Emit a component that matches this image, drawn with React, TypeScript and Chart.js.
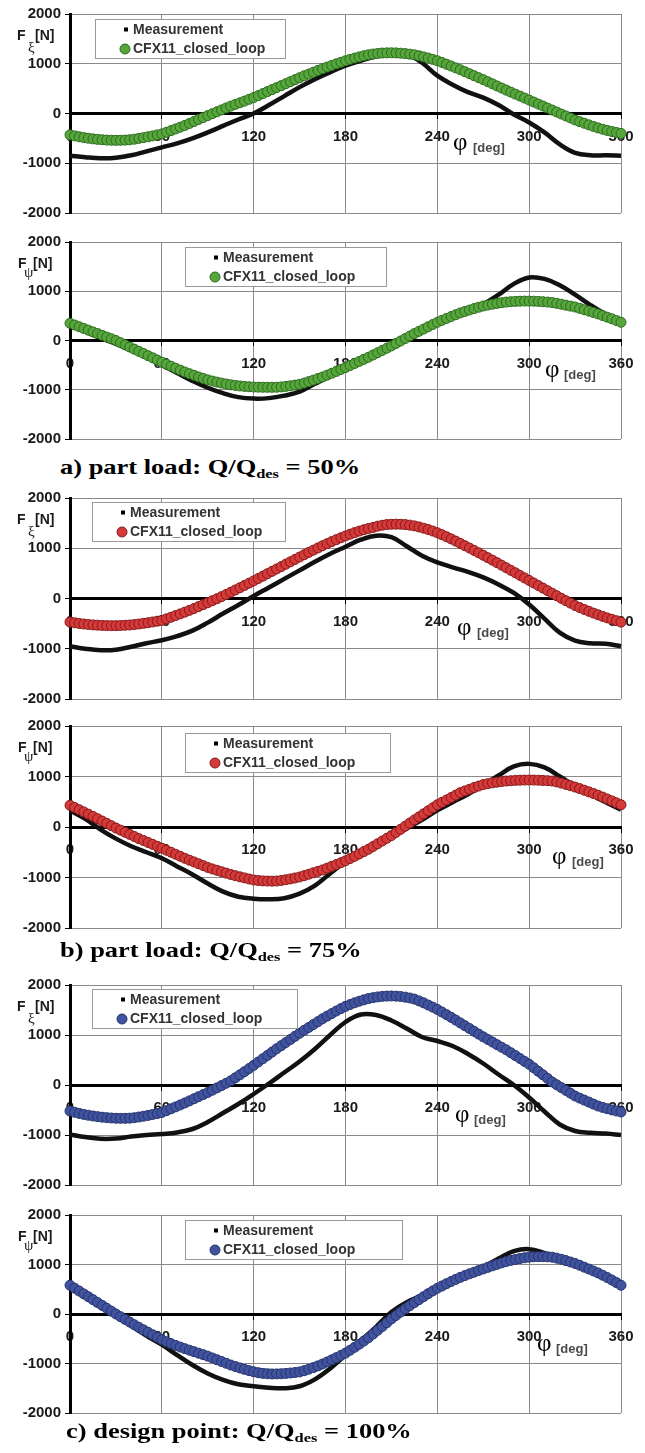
import React, { useEffect, useRef } from 'react';
import { Chart, registerables } from 'chart.js';

Chart.register(...registerables);

// ---------- DATA ----------
const SERIES_LABELS = ['Measurement', 'CFX11_closed_loop'];
const X_MIN = 0;
const X_MAX = 360;
const X_STEP = 60;
const Y_MIN = -2000;
const Y_MAX = 2000;
const Y_STEP = 1000;

const PHI_CFX = [
  0, 3, 6, 9, 12, 15, 18, 21, 24, 27, 30, 33, 36, 39, 42, 45, 48, 51, 54, 57, 60,
  63, 66, 69, 72, 75, 78, 81, 84, 87, 90, 93, 96, 99, 102, 105, 108, 111, 114, 117, 120,
  123, 126, 129, 132, 135, 138, 141, 144, 147, 150, 153, 156, 159, 162, 165, 168, 171, 174, 177, 180,
  183, 186, 189, 192, 195, 198, 201, 204, 207, 210, 213, 216, 219, 222, 225, 228, 231, 234, 237, 240,
  243, 246, 249, 252, 255, 258, 261, 264, 267, 270, 273, 276, 279, 282, 285, 288, 291, 294, 297, 300,
  303, 306, 309, 312, 315, 318, 321, 324, 327, 330, 333, 336, 339, 342, 345, 348, 351, 354, 357, 360,
];

const PHI_MEAS = [
  0, 10, 20, 30, 40, 50, 60, 70, 80, 90, 100, 110, 120, 130, 140, 150, 160, 170, 180,
  190, 200, 210, 220, 230, 240, 250, 260, 270, 280, 290, 300, 310, 320, 330, 340, 350, 360,
];

// a) Q/Qdes = 50 %
const CFX_XI_50 = [
  -430, -450, -468, -484, -498, -510,
  -520, -528, -534, -538, -540,
  -539, -535, -528, -516, -500,
  -485, -468, -450, -430, -410,
  -378, -344, -310, -275, -240,
  -200, -162, -122, -82, -42,
  -4, 34, 72, 110, 148,
  182, 216, 250, 285, 320,
  360, 400, 440, 480, 520,
  560, 600, 640, 680, 720,
  757, 793, 830, 866, 900,
  933, 966, 998, 1030, 1060,
  1088, 1114, 1138, 1160, 1180,
  1195, 1207, 1215, 1219, 1220,
  1218, 1212, 1204, 1193, 1180,
  1160, 1138, 1114, 1088, 1060,
  1026, 990, 954, 917, 880,
  840, 800, 760, 720, 680,
  638, 596, 554, 512, 470,
  430, 390, 350, 310, 270,
  230, 190, 150, 110, 70,
  30, -10, -50, -90, -130,
  -164, -196, -228, -260, -290,
  -316, -340, -362, -382, -400,
];
const MEAS_XI_50 = [
  -850, -880, -900, -890, -840, -760, -680, -600, -500, -380, -250, -120, 0, 170, 350, 530, 690, 830, 960,
  1060, 1150, 1200, 1190, 1020, 760, 580, 430, 320, 170, -20, -180, -380, -620, -790, -840, -840, -850,
];
const CFX_PSI_50 = [
  350, 315, 280, 245, 210, 175,
  140, 105, 70, 35, 0,
  -44, -88, -132, -176, -220,
  -264, -308, -352, -396, -440,
  -481, -522, -562, -601, -640,
  -674, -707, -739, -770, -800,
  -823, -845, -865, -883, -900,
  -912, -923, -932, -939, -945,
  -948, -950, -951, -951, -950,
  -942, -932, -920, -906, -890,
  -864, -835, -805, -773, -740,
  -704, -666, -628, -589, -550,
  -508, -466, -424, -382, -340,
  -294, -248, -202, -156, -110,
  -60, -10, 40, 90, 140,
  186, 232, 278, 324, 370,
  410, 448, 486, 523, 560,
  590, 618, 648, 675, 700,
  719, 737, 753, 767, 780,
  788, 794, 798, 800, 800,
  798, 794, 788, 780, 770,
  754, 736, 717, 698, 680,
  653, 625, 597, 568, 540,
  507, 474, 440, 405, 370,
];
const MEAS_PSI_50 = [
  310, 180, 50, -70, -200, -340, -500, -660, -820, -960, -1070, -1150, -1180, -1170, -1120, -1040, -880, -720, -570,
  -420, -250, -90, 90, 250, 380, 500, 610, 740, 930, 1150, 1280, 1250, 1120, 930, 720, 530, 370,
];

// b) Q/Qdes = 75 %
const CFX_XI_75 = [
  -470, -484, -497, -508, -517, -525,
  -531, -536, -539, -540, -540,
  -538, -533, -527, -519, -508,
  -495, -482, -467, -452, -435,
  -405, -373, -340, -306, -272,
  -236, -199, -161, -122, -84,
  -45, -5, 37, 80, 124,
  169, 214, 260, 305, 350,
  398, 445, 493, 540, 588,
  635, 683, 730, 778, 825,
  871, 917, 962, 1006, 1050,
  1092, 1132, 1171, 1209, 1245,
  1280, 1311, 1341, 1368, 1393,
  1414, 1440, 1458, 1471, 1477,
  1479, 1477, 1471, 1460, 1445,
  1424, 1400, 1373, 1342, 1308,
  1270, 1229, 1186, 1142, 1097,
  1051, 1004, 957, 909, 861,
  812, 763, 713, 663, 612,
  561, 511, 460, 409, 359,
  308, 257, 207, 156, 106,
  55, 4, -44, -92, -140,
  -180, -218, -254, -290, -324,
  -356, -386, -414, -442, -470,
];
const MEAS_XI_75 = [
  -950, -1000, -1030, -1020, -960, -890, -830, -750, -640, -480, -300, -130, 50, 220, 390, 560, 730, 890, 1030,
  1170, 1250, 1220, 1040, 850, 720, 620, 530, 420, 280, 110, -120, -400, -680, -840, -890, -900, -950,
];
const CFX_PSI_75 = [
  430, 386, 342, 298, 254, 210,
  164, 118, 72, 26, -20,
  -62, -104, -146, -188, -230,
  -268, -306, -344, -382, -420,
  -460, -500, -540, -580, -620,
  -656, -692, -728, -764, -800,
  -830, -858, -886, -913, -940,
  -964, -987, -1008, -1030, -1050,
  -1060, -1067, -1071, -1072, -1070,
  -1059, -1045, -1028, -1010, -990,
  -963, -935, -907, -879, -850,
  -815, -779, -743, -707, -670,
  -625, -580, -534, -487, -440,
  -386, -332, -278, -224, -170,
  -108, -46, 16, 78, 140,
  200, 260, 320, 380, 440,
  488, 536, 584, 632, 680,
  715, 748, 780, 811, 840,
  858, 874, 888, 900, 910,
  917, 923, 927, 929, 930,
  929, 926, 922, 917, 910,
  892, 869, 843, 817, 790,
  760, 728, 696, 663, 630,
  593, 555, 517, 478, 440,
];
const MEAS_PSI_75 = [
  330, 160, -50, -230, -380, -500, -620, -780, -940, -1120, -1280, -1380, -1420, -1430, -1410, -1320, -1160, -920, -690,
  -530, -370, -190, -30, 140, 330, 490, 650, 830, 1020, 1200, 1250, 1180, 1000, 810, 650, 490, 340,
];

// c) Q/Qdes = 100 %
const CFX_XI_100 = [
  -520, -545, -568, -588, -605, -620,
  -633, -644, -653, -660, -665,
  -667, -667, -663, -654, -640,
  -625, -608, -590, -571, -550,
  -514, -476, -438, -399, -360,
  -318, -276, -234, -192, -150,
  -104, -58, -12, 35, 83,
  143, 204, 266, 329, 393,
  460, 526, 592, 658, 725,
  787, 849, 911, 973, 1035,
  1093, 1151, 1209, 1267, 1325,
  1377, 1428, 1479, 1528, 1573,
  1609, 1644, 1675, 1703, 1728,
  1747, 1762, 1772, 1778, 1780,
  1777, 1770, 1757, 1740, 1718,
  1682, 1643, 1600, 1557, 1511,
  1459, 1407, 1353, 1298, 1242,
  1186, 1130, 1074, 1018, 963,
  911, 859, 807, 756, 704,
  646, 588, 530, 472, 414,
  344, 273, 203, 132, 62,
  4, -52, -108, -164, -220,
  -262, -302, -342, -382, -420,
  -448, -474, -498, -520, -540,
];
const MEAS_XI_100 = [
  -990, -1040, -1075, -1070, -1030, -1000, -980, -950, -880, -740, -560, -380, -180, 30, 250, 470, 720, 1000, 1260,
  1410, 1400, 1290, 1130, 960, 880, 780, 620, 430, 210, 0, -250, -530, -790, -920, -955, -970, -1000,
];
const CFX_PSI_100 = [
  580, 522, 464, 406, 348, 290,
  232, 174, 116, 58, 0,
  -55, -109, -163, -217, -270,
  -320, -370, -420, -470, -520,
  -560, -598, -634, -668, -700,
  -731, -761, -791, -821, -852,
  -888, -924, -960, -995, -1030,
  -1061, -1090, -1118, -1144, -1168,
  -1186, -1199, -1207, -1211, -1210,
  -1207, -1200, -1192, -1182, -1170,
  -1145, -1115, -1083, -1048, -1010,
  -969, -926, -882, -837, -790,
  -732, -672, -610, -546, -480,
  -405, -329, -253, -177, -100,
  -30, 38, 104, 168, 230,
  290, 350, 410, 466, 520,
  566, 612, 656, 699, 740,
  776, 811, 845, 878, 910,
  942, 973, 1003, 1032, 1060,
  1082, 1102, 1120, 1136, 1148,
  1155, 1158, 1158, 1155, 1148,
  1128, 1105, 1079, 1050, 1020,
  984, 946, 908, 869, 830,
  784, 736, 686, 634, 580,
];
const MEAS_PSI_100 = [
  540, 350, 160, -30, -240, -440, -620, -830, -1030, -1200, -1330, -1420, -1460, -1490, -1500, -1460, -1320, -1100, -830,
  -540, -260, 40, 240, 370, 490, 640, 800, 950, 1120, 1270, 1310, 1230, 1120, 1010, 860, 720, 570,
];

const CAPTIONS = [
  { lead: 'a) part load: Q/Q', sub: 'des', tail: ' = 50%' },
  { lead: 'b) part load: Q/Q', sub: 'des', tail: ' = 75%' },
  { lead: 'c) design point: Q/Q', sub: 'des', tail: ' = 100%' },
];

// ---------- STYLE / LAYOUT ----------
const GREEN = { fill: '#56a63c', edge: '#2c6a1f' };
const RED = { fill: '#d43a3a', edge: '#861818' };
const BLUE = { fill: '#41539f', edge: '#25346c' };

const PANELS = [
  { key: 'a1', top: 13, bottom: 213, sym: 'ξ', cfx: CFX_XI_50, meas: MEAS_XI_50, col: GREEN, legend: [95, 18, 190], phiX: 453, degX: 473 },
  { key: 'a2', top: 241, bottom: 439, sym: 'ψ', cfx: CFX_PSI_50, meas: MEAS_PSI_50, col: GREEN, legend: [185, 246, 201], phiX: 545, degX: 564 },
  { key: 'b1', top: 497, bottom: 699, sym: 'ξ', cfx: CFX_XI_75, meas: MEAS_XI_75, col: RED, legend: [92, 501, 193], phiX: 457, degX: 477 },
  { key: 'b2', top: 725, bottom: 928, sym: 'ψ', cfx: CFX_PSI_75, meas: MEAS_PSI_75, col: RED, legend: [185, 732, 205], phiX: 552, degX: 572 },
  { key: 'c1', top: 984, bottom: 1185, sym: 'ξ', cfx: CFX_XI_100, meas: MEAS_XI_100, col: BLUE, legend: [92, 988, 205], phiX: 455, degX: 474 },
  { key: 'c2', top: 1214, bottom: 1413, sym: 'ψ', cfx: CFX_PSI_100, meas: MEAS_PSI_100, col: BLUE, legend: [185, 1219, 217], phiX: 537, degX: 556 },
];

const CAPTION_POS = [
  { left: 60, top: 455 },
  { left: 60, top: 938 },
  { left: 66, top: 1419 },
];

const W = 645;
const PAD_T = 12;
const PAD_B = 14;
const PLOT_LEFT = 70;
const PLOT_RIGHT = 621;
const SANS = '"Liberation Sans", Arial, sans-serif';
const SERIF = '"Liberation Serif", "Times New Roman", serif';

function makeOverlay(p: any) {
  return {
    id: 'overlay_' + p.key,
    afterDatasetsDraw(chart: any) {
      const { ctx, chartArea, scales } = chart;
      const oy = chartArea.top - p.top;
      const zeroY = scales.y.getPixelForValue(0);
      ctx.save();
      ctx.textBaseline = 'middle';
      ctx.textAlign = 'left';
      // x-axis title
      ctx.fillStyle = '#000';
      ctx.font = `25px ${SERIF}`;
      ctx.fillText('φ', p.phiX, zeroY + 30);
      ctx.fillStyle = '#4a4a4a';
      ctx.font = `bold 13px ${SANS}`;
      ctx.fillText('[deg]', p.degX, zeroY + 35);
      // y-axis title
      const xi = p.sym === 'ξ';
      const ty = p.top + 22 + oy;
      ctx.fillStyle = '#1a1a1a';
      ctx.font = `bold 14px ${SANS}`;
      ctx.fillText('F', xi ? 17 : 18, ty);
      ctx.fillText('[N]', xi ? 35 : 33, ty);
      ctx.font = `15px ${SERIF}`;
      ctx.fillText(p.sym, xi ? 28 : 24, ty + (xi ? 12 : 9));
      // legend
      const [lx, lyPage, lw] = p.legend;
      const ly = lyPage + oy;
      const lh = 39;
      ctx.fillStyle = '#ffffff';
      ctx.fillRect(lx, ly, lw, lh);
      ctx.strokeStyle = '#9a9a9a';
      ctx.lineWidth = 1;
      ctx.strokeRect(lx + 0.5, ly + 0.5, lw, lh);
      ctx.fillStyle = '#000';
      ctx.fillRect(lx + 29, ly + 8.5, 4, 4);
      ctx.fillStyle = '#333';
      ctx.font = `bold 14px ${SANS}`;
      ctx.fillText(chart.data.datasets[1].label, lx + 38, ly + 11);
      ctx.beginPath();
      ctx.arc(lx + 30, ly + 30, 5, 0, Math.PI * 2);
      ctx.fillStyle = p.col.fill;
      ctx.fill();
      ctx.strokeStyle = p.col.edge;
      ctx.stroke();
      ctx.fillStyle = '#333';
      ctx.fillText(chart.data.datasets[0].label, lx + 38, ly + 30.5);
      ctx.restore();
    },
  };
}

function Panel({ p }: { p: any }) {
  const ref = useRef<HTMLCanvasElement>(null);
  const h = p.bottom - p.top + PAD_T + PAD_B;
  useEffect(() => {
    const tickFont = { family: SANS, size: 15, weight: 'bold' as const };
    const chart = new Chart(ref.current as HTMLCanvasElement, {
      type: 'line',
      data: {
        datasets: [
          {
            label: SERIES_LABELS[1],
            data: PHI_CFX.map((x, i) => ({ x, y: p.cfx[i] })),
            showLine: false,
            pointRadius: 5,
            pointBackgroundColor: p.col.fill,
            pointBorderColor: p.col.edge,
            pointBorderWidth: 1,
            order: 0,
            clip: false,
          } as any,
          {
            label: SERIES_LABELS[0],
            data: PHI_MEAS.map((x, i) => ({ x, y: p.meas[i] })),
            borderColor: '#111',
            borderWidth: 4.5,
            pointRadius: 0,
            tension: 0.4,
            fill: false,
            order: 1,
            clip: false,
          } as any,
        ],
      },
      options: {
        animation: false,
        responsive: false,
        devicePixelRatio: 1,
        events: [],
        layout: { padding: { left: 0, right: W - PLOT_RIGHT, top: PAD_T, bottom: PAD_B } },
        plugins: { legend: { display: false }, tooltip: { enabled: false } },
        scales: {
          x: {
            type: 'linear',
            min: X_MIN,
            max: X_MAX,
            position: { y: 0 } as any,
            afterFit: (s: any) => { s.height = 0; },
            ticks: {
              stepSize: X_STEP, autoSkip: false, maxRotation: 0, font: tickFont, color: '#1a1a1a', padding: 10,
              callback: (v: any) => String(v),
            },
            grid: { color: '#8a8a8a', lineWidth: 1, tickLength: 4, tickColor: '#000' },
            border: { display: true, color: '#000', width: 3 },
          },
          y: {
            type: 'linear',
            min: Y_MIN,
            max: Y_MAX,
            afterFit: (s: any) => { s.width = PLOT_LEFT; },
            ticks: {
              stepSize: Y_STEP, font: tickFont, color: '#1a1a1a', padding: 4,
              callback: (v: any) => String(v),
            },
            grid: { color: '#8a8a8a', lineWidth: 1, tickLength: 5, tickColor: '#000' },
            border: { display: true, color: '#000', width: 3 },
          },
        },
      } as any,
      plugins: [makeOverlay(p)],
    });
    return () => chart.destroy();
  }, []);
  return (
    <canvas
      ref={ref}
      width={W}
      height={h}
      style={{ position: 'absolute', left: 0, top: p.top - PAD_T, width: W, height: h, display: 'block' }}
    />
  );
}

export default function App() {
  return (
    <div style={{ position: 'absolute', left: 0, top: 0, width: W, height: 1453, background: '#fff', overflow: 'hidden' }}>
      {PANELS.map((p) => (
        <Panel key={p.key} p={p} />
      ))}
      {CAPTIONS.map((c, i) => (
        <div
          key={i}
          style={{
            position: 'absolute',
            left: CAPTION_POS[i].left,
            top: CAPTION_POS[i].top,
            font: `bold 21px ${SERIF}`,
            lineHeight: '24px',
            whiteSpace: 'nowrap',
            transform: 'scaleX(1.26)',
            transformOrigin: 'left top',
            color: '#000',
          }}
        >
          {c.lead}
          <span style={{ fontSize: 13, position: 'relative', top: 4 }}>{c.sub}</span>
          {c.tail}
        </div>
      ))}
    </div>
  );
}
